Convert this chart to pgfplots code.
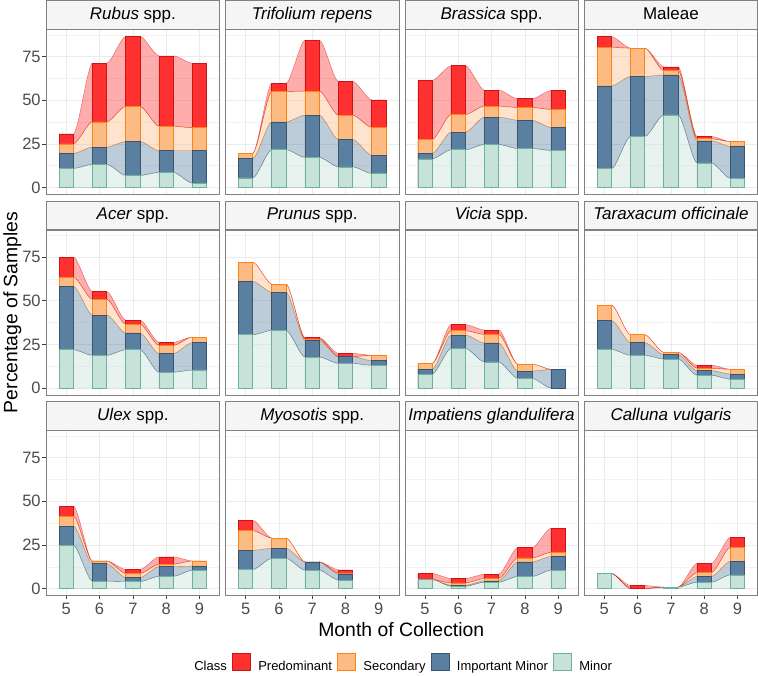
\documentclass[border=0pt]{standalone}
\usepackage{pgfplots}
\pgfplotsset{compat=1.18}
\usepackage{pgfplotstable}
\usepgfplotslibrary{fillbetween}
\usepackage{fontspec}
\setmainfont{Liberation Sans}

\definecolor{preF}{RGB}{255,48,48}
\definecolor{preD}{RGB}{205,20,20}
\definecolor{secF}{RGB}{253,187,132}
\definecolor{secD}{RGB}{255,130,20}
\definecolor{impF}{RGB}{91,127,160}
\definecolor{impD}{RGB}{58,84,110}
\definecolor{minF}{RGB}{198,226,217}
\definecolor{minD}{RGB}{108,178,158}

% cumulative tops: c1 Minor, c2 +Important Minor, c3 +Secondary, c4 +Predominant
\pgfplotstableread{
m c1 c2 c3 c4
5 10.9 19.5 25.0 30.7
6 13.2 23.1 37.6 71.2
7 6.9 26.3 46.4 86.5
8 8.6 21.0 35.1 75.4
9 2.5 21.0 34.2 71.2
}\tRub
\pgfplotstableread{
m c1 c2 c3 c4
5 5.5 16.6 19.7 19.7
6 21.6 37.6 55.0 59.7
7 17.2 41.4 55.2 84.4
8 11.8 27.5 41.4 60.7
9 8.0 18.5 34.4 50.2
}\tTri
\pgfplotstableread{
m c1 c2 c3 c4
5 16.4 19.5 27.5 61.3
6 21.6 31.7 41.8 69.7
7 24.6 40.3 46.6 55.7
8 22.3 38.5 45.8 50.8
9 21.2 34.4 44.7 55.5
}\tBra
\pgfplotstableread{
m c1 c2 c3 c4
5 10.7 58.2 80.2 86.3
6 29.2 63.5 79.8 79.8
7 41.6 64.5 67.0 69.1
8 14.1 26.7 27.9 29.2
9 5.2 23.5 26.3 26.3
}\tMal
\pgfplotstableread{
m c1 c2 c3 c4
5 21.9 58.2 63.5 75.0
6 18.7 41.8 50.8 55.2
7 21.9 31.5 36.5 38.9
8 9.0 19.7 24.4 26.1
9 10.3 26.0 29.2 29.2
}\tAce
\pgfplotstableread{
m c1 c2 c3 c4
5 30.5 61.1 72.1 72.1
6 33.0 54.8 59.5 59.5
7 17.7 27.3 28.1 28.8
8 14.1 17.9 18.0 19.8
9 13.0 15.6 18.7 18.7
}\tPru
\pgfplotstableread{
m c1 c2 c3 c4
5 8.0 10.7 14.1 14.1
6 22.7 30.3 32.8 36.3
7 14.9 25.8 30.7 33.2
8 5.5 9.7 13.7 13.7
9 0 10.7 10.7 10.7
}\tVic
\pgfplotstableread{
m c1 c2 c3 c4
5 22.1 38.7 47.5 47.5
6 18.7 26.0 30.5 30.5
7 16.6 19.1 20.4 20.4
8 7.3 9.9 11.3 13.0
9 5.0 8.0 10.7 10.7
}\tTar
\pgfplotstableread{
m c1 c2 c3 c4
5 24.7 35.8 41.3 47.2
6 4.2 14.3 15.8 15.8
7 4.0 6.3 8.6 10.9
8 7.0 12.6 13.9 18.1
9 10.5 12.8 15.8 15.8
}\tUle
\pgfplotstableread{
m c1 c2 c3 c4
5 10.9 21.9 33.1 39.0
6 17.3 23.0 28.9 28.9
7 10.5 15.2 15.2 15.2
8 4.8 8.4 8.9 10.7
}\tMyo
\pgfplotstableread{
m c1 c2 c3 c4
5 5.1 5.1 5.1 8.6
6 1.3 1.9 3.2 5.7
7 3.6 4.4 5.7 8.2
8 6.9 15.2 17.5 23.4
9 10.5 18.3 20.7 34.5
}\tImp
\pgfplotstableread{
m c1 c2 c3 c4
5 8.6 8.6 8.6 8.6
6 0 0 0 1.7
7 0.8 0.8 0.8 0.8
8 3.6 6.9 9.1 14.3
9 7.8 15.6 23.6 29.3
}\tCal

\def\bw{0.43}
\def\dl{0.15}
\def\tens{0.7}

\pgfplotsset{
  rib1/.style={fill=minF, fill opacity=0.4, draw=minD, draw opacity=0.6, line width=0.4pt},
  rib2/.style={fill=impF, fill opacity=0.4, draw=impD, draw opacity=0.6, line width=0.4pt},
  rib3/.style={fill=secF, fill opacity=0.4, draw=secD, draw opacity=0.6, line width=0.4pt},
  rib4/.style={fill=preF, fill opacity=0.4, draw=preD, draw opacity=0.6, line width=0.4pt},
  barst/.style={ybar, bar width=0.43, bar shift=0pt, forget plot, line width=0.6pt,
    unbounded coords=discard, y filter/.expression={y<0.01 ? nan : y}},
  facet/.style={
    scale only axis, width=173.3pt, height=165.3pt, anchor=north west,
    xmin=4.4, xmax=9.6, ymin=-4.0, ymax=90.6,
    xtick={5,6,7,8,9}, ytick={0,25,50,75},
    minor ytick={12.5,37.5,62.5,87.5},
    xmajorgrids, ymajorgrids, yminorgrids,
    major grid style={draw=black!8, line width=0.55pt},
    minor grid style={draw=black!5, line width=0.3pt},
    axis line style={draw=black!50, line width=0.6pt},
    tick align=outside, tick pos=left,
    major tick length=4pt, minor tick length=0pt,
    xtick style={draw=none}, ytick style={draw=none},
    xticklabels={}, yticklabels={},
    ticklabel style={font=\fontsize{16.5}{18}\selectfont, text=black!70},
    yticklabel style={inner sep=1.5pt},
    xticklabel style={inner sep=3.5pt},
    every axis title shift=0pt,
    title style={at={(0.5,1)}, anchor=south, draw=black!50, fill=black!4,
      line width=0.6pt, minimum width=173.3pt, minimum height=28.3pt,
      inner sep=0pt, text height=12.5pt, text depth=3.5pt,
      font=\fontsize{17}{20}\selectfont},
  },
  leftcol/.style={yticklabels={0,25,50,75}, ytick style={draw=black!75, line width=0.6pt}},
  botrow/.style={xticklabels={5,6,7,8,9}, xtick style={draw=black!75, line width=0.6pt}},
}

\newcommand\ribbons[1]{%
  \pgfplotstablegetrowsof{#1}%
  \pgfmathtruncatemacro\nlast{\pgfplotsretval-2}%
  \pgfplotsforeachungrouped \kk in {1,2,3,4}{%
    \pgfmathtruncatemacro\klo{\kk-1}%
    \pgfplotsforeachungrouped \ii in {0,...,\nlast}{%
      \pgfmathtruncatemacro\jj{\ii+1}%
      \pgfplotstablegetelem{\ii}{m}\of{#1}\let\mA\pgfplotsretval
      \pgfplotstablegetelem{\ii}{c\kk}\of{#1}\let\hA\pgfplotsretval
      \pgfplotstablegetelem{\jj}{c\kk}\of{#1}\let\hB\pgfplotsretval
      \ifnum\klo=0
        \def\lA{0}\def\lB{0}%
      \else
        \pgfplotstablegetelem{\ii}{c\klo}\of{#1}\let\lA\pgfplotsretval
        \pgfplotstablegetelem{\jj}{c\klo}\of{#1}\let\lB\pgfplotsretval
      \fi
      \pgfmathsetmacro\xa{\mA+\bw/2}%
      \pgfmathsetmacro\xb{\mA+1-\bw/2}%
      \pgfmathsetmacro\xaa{\xa-\dl}%
      \pgfmathsetmacro\xbb{\xb+\dl}%
      \edef\cmd{%
        \noexpand\addplot[draw=none, smooth, tension=\tens, name path=H\kk\ii, forget plot] coordinates {(\xaa,\hB) (\xa,\hA) (\xb,\hB) (\xbb,\hA)};
        \noexpand\addplot[draw=none, smooth, tension=\tens, name path=L\kk\ii, forget plot] coordinates {(\xaa,\lB) (\xa,\lA) (\xb,\lB) (\xbb,\lA)};
        \noexpand\addplot[rib\kk, forget plot] fill between[of=H\kk\ii\space and L\kk\ii, soft clip={(axis cs:\xa,-10) rectangle (axis cs:\xb,100)}];
      }%
      \cmd
    }%
  }%
}
\newcommand\bars[1]{%
  \addplot[barst, fill=preF, draw=preD] table[x=m, y=c4] {#1};
  \addplot[barst, fill=secF, draw=secD] table[x=m, y=c3] {#1};
  \addplot[barst, fill=impF, draw=impD] table[x=m, y=c2] {#1};
  \addplot[barst, fill=minF, draw=minD] table[x=m, y=c1] {#1};
}

\begin{document}
\begin{tikzpicture}
% row 1
\begin{axis}[facet, leftcol, at={(45.7pt,-29.3pt)}, title={\textit{Rubus} spp.}]
\ribbons{\tRub}\bars{\tRub}
\end{axis}
\begin{axis}[facet, at={(225.2pt,-29.3pt)}, title={\textit{Trifolium repens}}]
\ribbons{\tTri}\bars{\tTri}
\end{axis}
\begin{axis}[facet, at={(404.7pt,-29.3pt)}, title={\textit{Brassica} spp.}]
\ribbons{\tBra}\bars{\tBra}
\end{axis}
\begin{axis}[facet, at={(584.2pt,-29.3pt)}, title={Maleae}]
\ribbons{\tMal}\bars{\tMal}
\end{axis}
% row 2
\begin{axis}[facet, leftcol, at={(45.7pt,-230pt)}, title={\textit{Acer} spp.},
  ylabel={Percentage of Samples},
  ylabel style={at={(axis description cs:-0.196,0.5)}, anchor=center, font=\fontsize{19.4}{22}\selectfont}]
\ribbons{\tAce}\bars{\tAce}
\end{axis}
\begin{axis}[facet, at={(225.2pt,-230pt)}, title={\textit{Prunus} spp.}]
\ribbons{\tPru}\bars{\tPru}
\end{axis}
\begin{axis}[facet, at={(404.7pt,-230pt)}, title={\textit{Vicia} spp.}]
\ribbons{\tVic}\bars{\tVic}
\end{axis}
\begin{axis}[facet, at={(584.2pt,-230pt)}, title={\textit{Taraxacum officinale}}]
\ribbons{\tTar}\bars{\tTar}
\end{axis}
% row 3
\begin{axis}[facet, leftcol, botrow, at={(45.7pt,-430.7pt)}, title={\textit{Ulex} spp.},
  xlabel={Month of Collection},
  xlabel style={at={(axis description cs:2.05,-0.206)}, anchor=center, font=\fontsize{19.4}{22}\selectfont},
  legend style={at={(axis description cs:2.052,-0.41)}, anchor=center, draw=none, fill=none,
    legend columns=-1, font=\fontsize{13}{15}\selectfont, /tikz/column sep=3pt},
  legend image code/.code={\draw[#1, line width=0.6pt] (0pt,-4pt) rectangle (18.5pt,13pt); \path (21pt,4pt);}]
\ribbons{\tUle}\bars{\tUle}
\addlegendimage{empty legend}\addlegendentry{Class}
\addlegendimage{fill=preF, draw=preD}\addlegendentry{Predominant}
\addlegendimage{fill=secF, draw=secD}\addlegendentry{Secondary}
\addlegendimage{fill=impF, draw=impD}\addlegendentry{Important Minor}
\addlegendimage{fill=minF, draw=minD}\addlegendentry{Minor}
\end{axis}
\begin{axis}[facet, botrow, at={(225.2pt,-430.7pt)}, title={\textit{Myosotis} spp.}]
\ribbons{\tMyo}\bars{\tMyo}
\end{axis}
\begin{axis}[facet, botrow, at={(404.7pt,-430.7pt)}, title={\textit{Impatiens glandulifera}}]
\ribbons{\tImp}\bars{\tImp}
\end{axis}
\begin{axis}[facet, botrow, at={(584.2pt,-430.7pt)}, title={\textit{Calluna vulgaris}}]
\ribbons{\tCal}\bars{\tCal}
\end{axis}
\path (0pt,0pt) (758pt,-675pt);
\end{tikzpicture}
\end{document}
